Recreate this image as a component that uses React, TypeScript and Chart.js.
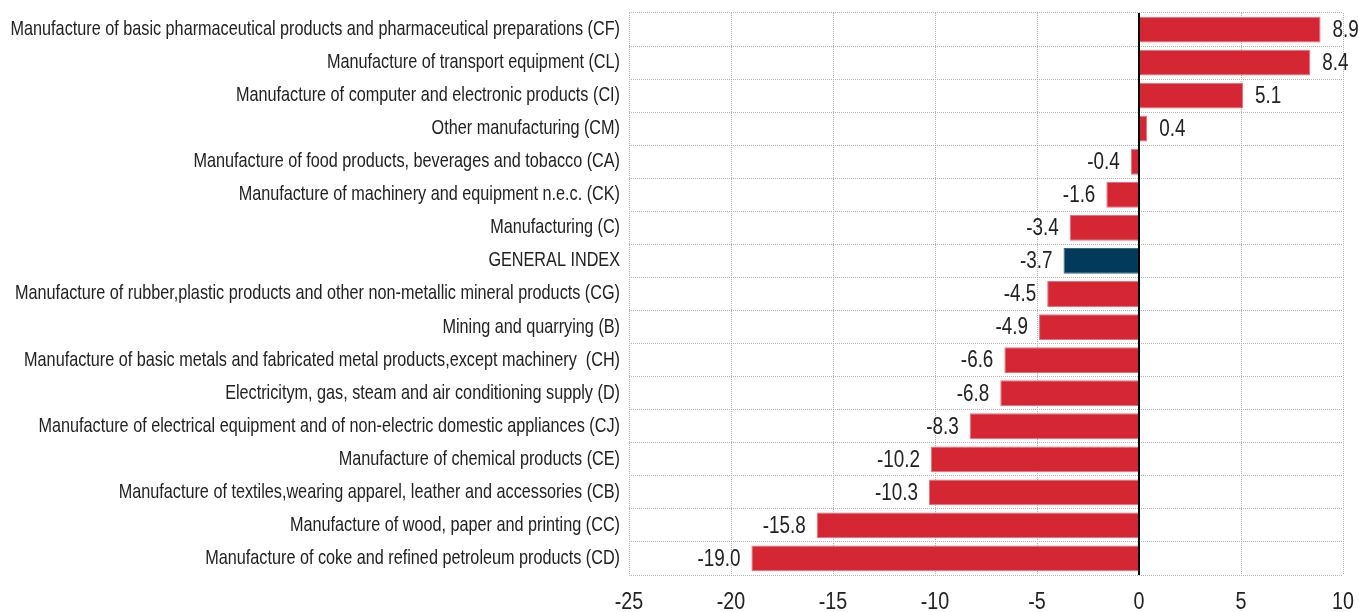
import React, { useEffect, useRef } from "react";
import { Chart, registerables } from "chart.js";

Chart.register(...registerables);

const categories: string[] = [
  "Manufacture of basic pharmaceutical products and pharmaceutical preparations (CF)",
  "Manufacture of transport equipment (CL)",
  "Manufacture of computer and electronic products (CI)",
  "Other manufacturing (CM)",
  "Manufacture of food products, beverages and tobacco (CA)",
  "Manufacture of machinery and equipment n.e.c. (CK)",
  "Manufacturing (C)",
  "GENERAL INDEX",
  "Manufacture of rubber,plastic products and other non-metallic mineral products (CG)",
  "Mining and quarrying (B)",
  "Manufacture of basic metals and fabricated metal products,except machinery  (CH)",
  "Electricitym, gas, steam and air conditioning supply (D)",
  "Manufacture of electrical equipment and of non-electric domestic appliances (CJ)",
  "Manufacture of chemical products (CE)",
  "Manufacture of textiles,wearing apparel, leather and accessories (CB)",
  "Manufacture of wood, paper and printing (CC)",
  "Manufacture of coke and refined petroleum products (CD)",
];

const values: number[] = [8.9, 8.4, 5.1, 0.4, -0.4, -1.6, -3.4, -3.7, -4.5, -4.9, -6.6, -6.8, -8.3, -10.2, -10.3, -15.8, -19.0];

const highlightCategory = "GENERAL INDEX";
const xMin = -25;
const xMax = 10;
const xStep = 5;

const RED = "#d52633";
const NAVY = "#023a5b";
const FONT = "'Liberation Sans', Arial, sans-serif";
const NARROW = 0.82;
const TEXT_COLOR = "#222";

function drawNarrow(ctx: CanvasRenderingContext2D, text: string, x: number, y: number, align: CanvasTextAlign, size: number) {
  ctx.save();
  ctx.translate(x, y);
  ctx.scale(NARROW, 1);
  ctx.font = `${size}px ${FONT}`;
  ctx.fillStyle = TEXT_COLOR;
  ctx.textAlign = align;
  ctx.textBaseline = "middle";
  ctx.fillText(text, 0, 0);
  ctx.restore();
}

const textPlugin = {
  id: "narrowText",
  afterDatasetsDraw(chart: any) {
    const ctx: CanvasRenderingContext2D = chart.ctx;
    const meta = chart.getDatasetMeta(0);
    const xScale = chart.scales.x;
    const yScale = chart.scales.y;
    const area = chart.chartArea;
    ctx.save();
    // zero line
    const x0 = Math.round(xScale.getPixelForValue(0));
    ctx.strokeStyle = "#000";
    ctx.lineWidth = 2;
    ctx.beginPath();
    ctx.moveTo(x0, area.top);
    ctx.lineTo(x0, area.bottom);
    ctx.stroke();
    ctx.restore();

    // value labels
    meta.data.forEach((bar: any, i: number) => {
      const v = values[i];
      const txt = v.toFixed(1);
      if (v >= 0) {
        drawNarrow(ctx, txt, bar.x + 12, bar.y + 1, "left", 23);
      } else {
        drawNarrow(ctx, txt, bar.x - 11, bar.y + 1, "right", 23);
      }
    });

    // category labels
    categories.forEach((c, i) => {
      const y = yScale.getPixelForValue(i);
      drawNarrow(ctx, c, area.left - 9, y, "right", 19.8);
    });

    // x tick labels
    xScale.ticks.forEach((t: any) => {
      const x = xScale.getPixelForValue(t.value);
      drawNarrow(ctx, String(t.value), x, area.bottom + 27, "center", 24);
    });
  },
};

export default function App() {
  const ref = useRef<HTMLCanvasElement | null>(null);
  useEffect(() => {
    document.body.style.margin = "0";
    const canvas = ref.current;
    if (!canvas) return;
    const chart = new Chart(canvas, {
      type: "bar",
      data: {
        labels: categories,
        datasets: [
          {
            data: values,
            backgroundColor: categories.map((c) => (c === highlightCategory ? NAVY : RED)),
            borderColor: categories.map((c) => (c === highlightCategory ? "#3a6480" : "#e8707a")),
            borderWidth: 1,
            categoryPercentage: 0.78,
            barPercentage: 1,
          },
        ],
      },
      options: {
        indexAxis: "y",
        animation: false,
        responsive: false,
        maintainAspectRatio: false,
        layout: { padding: { top: 13, right: 16, bottom: 0, left: 0 } },
        plugins: {
          legend: { display: false },
          tooltip: { enabled: false },
        },
        scales: {
          x: {
            min: xMin,
            max: xMax,
            ticks: {
              stepSize: xStep,
              display: false,
            },
            grid: {
              color: "#b3b3b3",
              lineWidth: 1,
              drawTicks: false,
            },
            border: { display: false, dash: [1, 1] },
            afterFit: (scale: any) => {
              scale.height = 37;
            },
          },
          y: {
            ticks: {
              display: false,
              autoSkip: false,
            },
            grid: {
              color: "#b3b3b3",
              lineWidth: 1,
              drawTicks: false,
            },
            border: { display: false, dash: [1, 1] },
            afterFit: (scale: any) => {
              scale.width = 629;
            },
          },
        },
      },
      plugins: [textPlugin],
    });
    return () => chart.destroy();
  }, []);
  return <canvas ref={ref} width={1359} height={612} style={{ display: "block" }} />;
}
